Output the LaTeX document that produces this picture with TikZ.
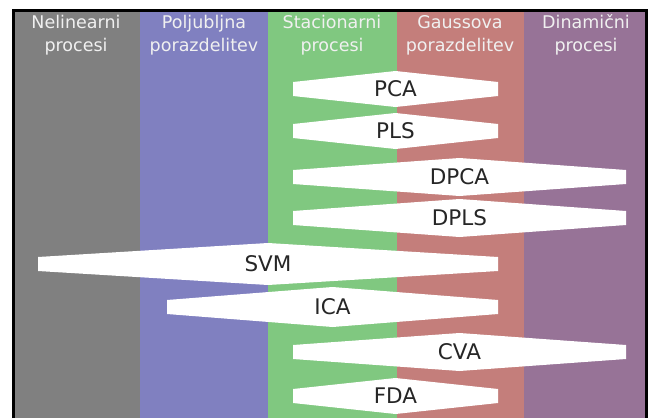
\documentclass[tikz,border=0pt]{standalone}
\usepackage{fontspec}
\setmainfont{DejaVu Sans}
\usetikzlibrary{positioning}

\definecolor{nelin}{HTML}{808080}
\definecolor{poljub}{HTML}{8080C0}
\definecolor{stac}{HTML}{80C880}
\definecolor{gauss}{HTML}{C47E7B}
\definecolor{dinam}{HTML}{977397}

\tikzset{
  glava/.style={align=center, text=white!88!gray,
    font=\fontsize{17.5}{23}\selectfont},
  metoda/.style={text=black!85, font=\fontsize{21.5}{24}\selectfont, inner sep=0pt}
}

\begin{document}
\begin{tikzpicture}[x=1pt,y=-1pt]
\useasboundingbox (0,0) rectangle (651,418);
% stolpci
\fill[nelin]  (12,9)  rectangle (140,418);
\fill[poljub] (140,9) rectangle (268,418);
\fill[stac]   (268,9) rectangle (397,418);
\fill[gauss]  (397,9) rectangle (524,418);
\fill[dinam]  (524,9) rectangle (647,418);
\draw[line width=3pt] (13.5,418) -- (13.5,10.5) -- (646.5,10.5) -- (646.5,418);
% naslovi
\foreach \x/\a/\b/\n in {76/Nelinearni/procesi/nel, 204/Poljubljna/porazdelitev/pol,
    332/Stacionarni/procesi/sta, 460/Gaussova/porazdelitev/gau, 586/Dinamični/procesi/din}
  \node[glava] (\n) at (\x,35) {\a\\\b};
% metode
\foreach \l/\r/\y/\h/\t in {293/498/89/18/PCA, 293/498/131/18/PLS, 293/626/177/19/DPCA,
    293/626/218/19/DPLS, 38/498/264/21/SVM, 167/498/307/20/ICA,
    293/626/352/19/CVA, 293/498/396/18/FDA}
{
  \fill[white] (\l,\y-7) -- ({(\l+\r)/2},\y-\h) -- (\r,\y-7) -- (\r,\y+7)
    -- ({(\l+\r)/2},\y+\h) -- (\l,\y+7) -- cycle;
  \node[metoda] (\t) at ({(\l+\r)/2},\y) {\t};
}
\end{tikzpicture}
\end{document}
